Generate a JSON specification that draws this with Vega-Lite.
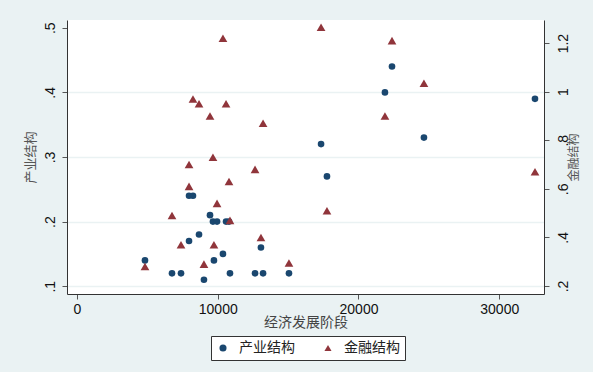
{
  "$schema": "https://vega.github.io/schema/vega-lite/v6.json",
  "width": 477,
  "height": 274,
  "autosize": {"type": "none"},
  "padding": {"left": 67, "top": 20, "right": 49, "bottom": 78},
  "background": "#EAF2F3",
  "config": {
    "view": {"fill": "white", "stroke": null},
    "axis": {
      "domainColor": "#333333",
      "domainWidth": 1,
      "tickColor": "#555555",
      "tickSize": 5,
      "labelFont": "Liberation Sans",
      "labelFontSize": 14,
      "labelColor": "#111111",
      "titleFont": "Noto Sans CJK SC",
      "titleFontWeight": "normal",
      "titleColor": "#555555"
    }
  },
  "data": {
    "values": [
      {"gdp": 4830, "industry": 0.14, "finance": 0.28},
      {"gdp": 6750, "industry": 0.12, "finance": 0.49},
      {"gdp": 7390, "industry": 0.12, "finance": 0.37},
      {"gdp": 7960, "industry": 0.24, "finance": 0.61},
      {"gdp": 7960, "industry": 0.17, "finance": 0.70},
      {"gdp": 8240, "industry": 0.24, "finance": 0.97},
      {"gdp": 8670, "industry": 0.18, "finance": 0.95},
      {"gdp": 9020, "industry": 0.11, "finance": 0.29},
      {"gdp": 9450, "industry": 0.21, "finance": 0.90},
      {"gdp": 9660, "industry": 0.20, "finance": 0.73},
      {"gdp": 9730, "industry": 0.14, "finance": 0.37},
      {"gdp": 9950, "industry": 0.20, "finance": 0.54},
      {"gdp": 10370, "industry": 0.15, "finance": 1.22},
      {"gdp": 10590, "industry": 0.20, "finance": 0.95},
      {"gdp": 10800, "industry": 0.20, "finance": 0.63},
      {"gdp": 10870, "industry": 0.12, "finance": 0.47},
      {"gdp": 12650, "industry": 0.12, "finance": 0.68},
      {"gdp": 13070, "industry": 0.16, "finance": 0.40},
      {"gdp": 13220, "industry": 0.12, "finance": 0.87},
      {"gdp": 15060, "industry": 0.12, "finance": 0.295},
      {"gdp": 17340, "industry": 0.32, "finance": 1.265},
      {"gdp": 17760, "industry": 0.27, "finance": 0.51},
      {"gdp": 21880, "industry": 0.40, "finance": 0.90},
      {"gdp": 22380, "industry": 0.44, "finance": 1.21},
      {"gdp": 24650, "industry": 0.33, "finance": 1.035},
      {"gdp": 32540, "industry": 0.39, "finance": 0.67}
    ]
  },
  "encoding": {
    "x": {
      "field": "gdp",
      "type": "quantitative",
      "scale": {"domain": [-710, 33180], "nice": false, "zero": false},
      "axis": {
        "values": [0, 10000, 20000, 30000],
        "format": "d",
        "grid": false,
        "labelPadding": 3,
        "title": "经济发展阶段",
        "titleFontSize": 14,
        "titleColor": "#444444",
        "titlePadding": -1
      }
    }
  },
  "layer": [
    {
      "mark": {"type": "point", "filled": true, "opacity": 1, "size": 44},
      "encoding": {
        "y": {
          "field": "industry",
          "type": "quantitative",
          "scale": {"domain": [0.088, 0.512], "nice": false, "zero": false},
          "axis": {
            "orient": "left",
            "values": [0.1, 0.2, 0.3, 0.4, 0.5],
            "labelExpr": "substring(format(datum.value, '.1f'), 1)",
            "labelAngle": 270,
            "labelAlign": "center",
            "labelBaseline": "bottom",
            "labelPadding": 5,
            "grid": true,
            "gridColor": "#EAF2F3",
            "gridWidth": 1.6,
            "gridOpacity": {"condition": {"test": "datum.value > 0.45", "value": 0}, "value": 1},
            "title": "产业结构",
            "titleFontSize": 13,
            "titlePadding": 6
          }
        },
        "color": {
          "datum": "产业结构",
          "scale": {"domain": ["产业结构", "金融结构"], "range": ["#1A476F", "#90353B"]},
          "legend": {
            "title": null,
            "orient": "none",
            "legendX": 144,
            "legendY": 316,
            "direction": "horizontal",
            "columns": 2,
            "columnPadding": 26,
            "padding": 5,
            "fillColor": "white",
            "strokeColor": "#333333",
            "symbolSize": 50,
            "symbolStrokeWidth": 0,
            "labelOffset": 9,
            "labelFont": "Noto Sans CJK SC",
            "labelFontSize": 14,
            "labelColor": "#222222"
          }
        },
        "shape": {
          "datum": "产业结构",
          "scale": {"domain": ["产业结构", "金融结构"], "range": ["circle", "triangle-up"]}
        }
      }
    },
    {
      "mark": {"type": "point", "filled": true, "opacity": 1, "size": 76},
      "encoding": {
        "y": {
          "field": "finance",
          "type": "quantitative",
          "scale": {"domain": [0.167, 1.295], "nice": false, "zero": false},
          "axis": {
            "orient": "right",
            "values": [0.2, 0.4, 0.6, 0.8, 1, 1.2],
            "labelExpr": "datum.value < 1 ? substring(format(datum.value, '.1f'), 1) : format(datum.value, '~g')",
            "labelAngle": 270,
            "labelAlign": "center",
            "labelBaseline": "top",
            "labelPadding": 7,
            "grid": false,
            "title": "金融结构",
            "titleAngle": 270,
            "titleFontSize": 12,
            "titlePadding": 10
          }
        },
        "color": {"datum": "金融结构"},
        "shape": {"datum": "金融结构"}
      }
    }
  ],
  "resolve": {"scale": {"y": "independent"}}
}
